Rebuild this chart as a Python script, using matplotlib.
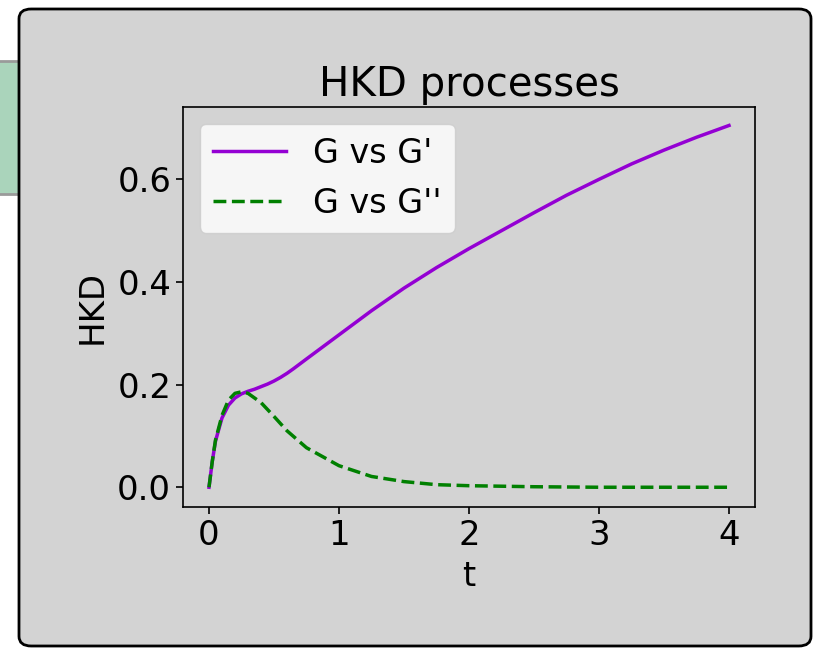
import matplotlib
matplotlib.use("Agg")
import matplotlib.pyplot as plt
from matplotlib.patches import FancyBboxPatch, Rectangle

# Data
t_purple = [0, 0.025, 0.05, 0.1, 0.15, 0.2, 0.25, 0.3, 0.35, 0.4, 0.45, 0.5, 0.55, 0.6, 0.65,
            0.75, 1.0, 1.25, 1.5, 1.75, 2.0, 2.25, 2.5, 2.75, 3.0, 3.25, 3.5, 3.75, 4.0]
hkd_g1 = [0, 0.05, 0.09, 0.135, 0.16, 0.174, 0.182, 0.187, 0.191, 0.196, 0.201, 0.207, 0.214,
          0.222, 0.231, 0.25, 0.297, 0.344, 0.388, 0.428, 0.465, 0.5, 0.535, 0.569, 0.6,
          0.63, 0.657, 0.682, 0.705]

t_green = [0, 0.025, 0.05, 0.1, 0.15, 0.2, 0.25, 0.3, 0.4, 0.5, 0.6, 0.75, 1.0, 1.25, 1.5,
           1.75, 2.0, 2.5, 3.0, 3.5, 4.0]
hkd_g2 = [0, 0.05, 0.092, 0.14, 0.17, 0.183, 0.186, 0.183, 0.165, 0.138, 0.11, 0.077, 0.042,
          0.021, 0.011, 0.005, 0.003, 0.001, 0.0, 0.0, 0.0]

labels = ["G vs G'", "G vs G''"]
title = "HKD processes"

fig = plt.figure(figsize=(8.13, 6.48), dpi=100)
fig.patch.set_facecolor("white")

# green box behind at left
fig.patches.append(Rectangle((-0.05, 1 - 194 / 648), 0.08, 133 / 648, transform=fig.transFigure,
                             facecolor="#aad4bb", edgecolor="#9a9a9a", lw=2, zorder=0))
# rounded card
fig.patches.append(FancyBboxPatch((19 / 813, 1 - 646 / 648), 792 / 813, 637 / 648,
                                  boxstyle="round,pad=0,rounding_size=0.015",
                                  transform=fig.transFigure, facecolor="#d3d3d3",
                                  edgecolor="black", lw=2, zorder=0.5))

ax = fig.add_axes([183 / 813, 1 - 507 / 648, 572 / 813, 400 / 648])
ax.set_zorder(5)
ax.set_facecolor("#d3d3d3")
ax.plot(t_purple, hkd_g1, color="darkviolet", lw=2.5, label=labels[0])
ax.plot(t_green, hkd_g2, color="green", lw=2.5, ls="--", label=labels[1])
ax.set_xlim(-0.2, 4.2)
ax.set_ylim(-0.0385, 0.741)
ax.set_xticks([0, 1, 2, 3, 4])
ax.set_yticks([0.0, 0.2, 0.4, 0.6])
ax.tick_params(labelsize=24.4, length=5, width=1.2)
for s in ax.spines.values():
    s.set_linewidth(1.2)
ax.set_title(title, fontsize=29, pad=8)
ax.set_xlabel("t", fontsize=24.4, labelpad=6)
ax.set_ylabel("HKD", fontsize=24.4, labelpad=6)
ax.legend(fontsize=24, loc="upper left", handlelength=2.2)

fig.savefig("out.png", dpi=100)
